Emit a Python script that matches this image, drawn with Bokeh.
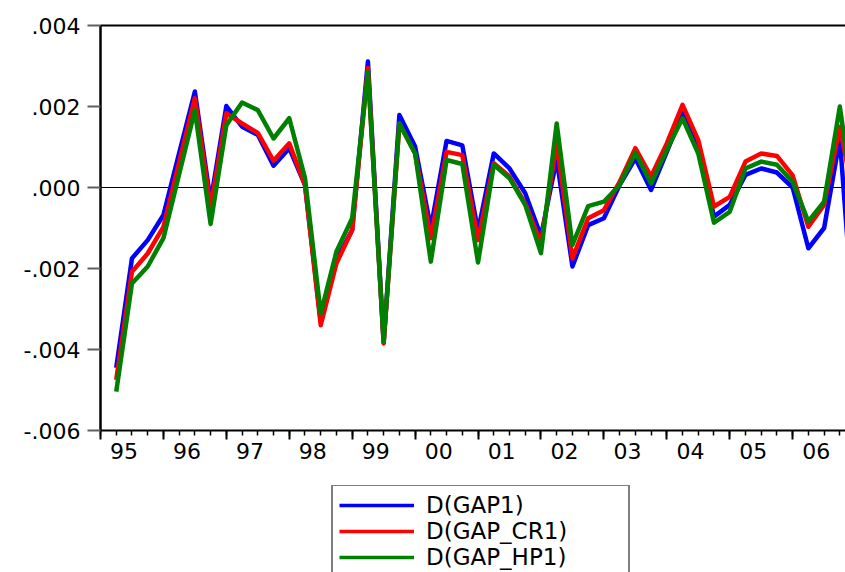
from bokeh.plotting import figure
from bokeh.layouts import column
from bokeh.models import Range1d, LinearAxis, FixedTicker, Span, Legend, LegendItem, ColumnDataSource
from bokeh.embed import file_html
from bokeh.resources import INLINE

# quarterly observations 1995Q2 .. 2007Q1
quarters = [f"{y}Q{q}" for y in range(1995, 2008) for q in range(1, 5)][1:49]

gap1 = [-0.00445, -0.00175, -0.00130, -0.00068, 0.00085, 0.00237, -0.00035, 0.00201,
        0.00150, 0.00130, 0.00054, 0.00097, 0.00006, -0.00331, -0.00179, -0.00105,
        0.00311, -0.00383, 0.00179, 0.00101, -0.00100, 0.00115, 0.00104, -0.00108,
        0.00084, 0.00047, -0.00014, -0.00120, 0.00070, -0.00195, -0.00093, -0.00076,
        0.00006, 0.00072, -0.00006, 0.00088, 0.00183, 0.00101, -0.00072, -0.00043,
        0.00031, 0.00047, 0.00037, 0.00000, -0.00150, -0.00100, 0.00120, -0.00400]

gap_cr1 = [-0.00475, -0.00208, -0.00163, -0.00097, 0.00062, 0.00220, -0.00050, 0.00183,
           0.00158, 0.00135, 0.00066, 0.00109, 0.00006, -0.00340, -0.00187, -0.00105,
           0.00295, -0.00385, 0.00158, 0.00084, -0.00125, 0.00088, 0.00080, -0.00130,
           0.00060, 0.00027, -0.00039, -0.00138, 0.00110, -0.00175, -0.00076, -0.00056,
           0.00014, 0.00097, 0.00027, 0.00109, 0.00204, 0.00117, -0.00047, -0.00023,
           0.00064, 0.00084, 0.00078, 0.00030, -0.00097, -0.00043, 0.00150, -0.00050]

gap_hp1 = [-0.00504, -0.00237, -0.00195, -0.00125, 0.00033, 0.00191, -0.00090, 0.00154,
           0.00210, 0.00191, 0.00121, 0.00171, 0.00023, -0.00311, -0.00158, -0.00076,
           0.00285, -0.00381, 0.00158, 0.00084, -0.00183, 0.00068, 0.00058, -0.00185,
           0.00056, 0.00023, -0.00043, -0.00162, 0.00158, -0.00142, -0.00046, -0.00035,
           0.00006, 0.00086, 0.00010, 0.00093, 0.00171, 0.00084, -0.00087, -0.00060,
           0.00047, 0.00064, 0.00056, 0.00014, -0.00084, -0.00035, 0.00200, -0.00075]

series_names = ["D(GAP1)", "D(GAP_CR1)", "D(GAP_HP1)"]
series_colors = ["#0000FF", "#FF0000", "#008000"]

year_labels = ["95", "96", "97", "98", "99", "00", "01", "02", "03", "04", "05", "06"]
y_ticks = [-0.006, -0.004, -0.002, 0.0, 0.002, 0.004]
y_labels = ["-.006", "-.004", "-.002", ".000", ".002", ".004"]

# x index: quarters since 1995Q1
xs = [(int(s[:4]) - 1995) * 4 + int(s[-1]) - 1 for s in quarters]
source = ColumnDataSource(dict(x=xs, q=quarters, a=gap1, b=gap_cr1, c=gap_hp1))
cols = ["a", "b", "c"]

FONT = "DejaVu Sans"

# ---------------- main chart ----------------
p = figure(width=845, height=485, output_backend="svg", toolbar_location=None,
           x_range=Range1d(0, 47.36), y_range=Range1d(-0.006, 0.004),
           x_axis_type=None, y_axis_type=None,
           min_border_left=100, min_border_right=0, min_border_top=25, min_border_bottom=55)
p.outline_line_color = None
p.background_fill_color = "white"
p.border_fill_color = "white"

p.add_layout(Span(location=0, dimension="width", line_color="black", line_width=1, level="underlay"))

for col, color in zip(cols, series_colors):
    p.line("x", col, source=source, line_color=color, line_width=4.5, line_join="round")

# left axis
yax = LinearAxis(ticker=FixedTicker(ticks=y_ticks, minor_ticks=[]),
                 major_label_overrides=dict(zip(y_ticks, y_labels)))
yax.axis_line_color = "black"
yax.axis_line_width = 2.5
yax.major_tick_in = 0
yax.major_tick_out = 13
yax.major_tick_line_color = "#606060"
yax.major_tick_line_width = 2
yax.minor_tick_out = 0
yax.minor_tick_in = 0
yax.major_label_standoff = 7
yax.major_label_text_font = FONT
yax.major_label_text_font_size = "22px"
yax.major_label_text_color = "black"
p.add_layout(yax, "left")

# top border
tax = LinearAxis(ticker=FixedTicker(ticks=[], minor_ticks=[]))
tax.axis_line_color = "black"
tax.axis_line_width = 2
tax.major_tick_out = 0
tax.major_tick_in = 0
tax.minor_tick_out = 0
tax.major_label_text_font_size = "1px"
p.add_layout(tax, "above")

# bottom tick axis (years / quarters)
year_starts = [4 * k for k in range(len(year_labels))]
quarter_pos = [i for i in range(0, 48)]
bax = LinearAxis(ticker=FixedTicker(ticks=year_starts, minor_ticks=quarter_pos),
                 major_label_overrides={t: "" for t in year_starts})
bax.axis_line_color = "black"
bax.axis_line_width = 2
bax.major_tick_in = 0
bax.major_tick_out = 9
bax.major_tick_line_width = 2
bax.major_tick_line_color = "black"
bax.minor_tick_in = 0
bax.minor_tick_out = 5
bax.minor_tick_line_width = 1.5
bax.minor_tick_line_color = "black"
bax.major_label_standoff = 0
bax.major_label_text_font_size = "1px"
p.add_layout(bax, "below")

# bottom label axis
label_pos = [4 * k + 1.5 for k in range(len(year_labels))]
lax = LinearAxis(ticker=FixedTicker(ticks=label_pos, minor_ticks=[]),
                 major_label_overrides=dict(zip(label_pos, year_labels)))
lax.axis_line_color = None
lax.major_tick_out = 0
lax.major_tick_in = 0
lax.minor_tick_out = 0
lax.minor_tick_in = 0
lax.major_label_standoff = 3
lax.major_label_text_font = FONT
lax.major_label_text_font_size = "22px"
lax.major_label_text_color = "black"
p.add_layout(lax, "below")

# ---------------- legend strip ----------------
leg = figure(width=845, height=87, output_backend="svg", toolbar_location=None,
             x_range=Range1d(-200, -100), y_range=Range1d(-0.006, 0.004),
             x_axis_type=None, y_axis_type=None, min_border=0)
leg.outline_line_color = None
leg.background_fill_color = "white"
leg.border_fill_color = "white"
leg_renderers = [leg.line("x", col, source=source, line_color=color, line_width=3.5)
                 for col, color in zip(cols, series_colors)]

legend = Legend(items=[LegendItem(label=n, renderers=[r]) for n, r in zip(series_names, leg_renderers)],
                location=(231, -6), orientation="vertical",
                glyph_width=75, glyph_height=26, label_height=26, label_width=196,
                label_standoff=12, spacing=0, padding=6, margin=0,
                border_line_color="black", border_line_width=2,
                background_fill_color="white", background_fill_alpha=1,
                label_text_font=FONT, label_text_font_size="23px", label_text_color="black")
leg.add_layout(legend)

open("out.html", "w").write(file_html(column(p, leg, spacing=0), INLINE))
